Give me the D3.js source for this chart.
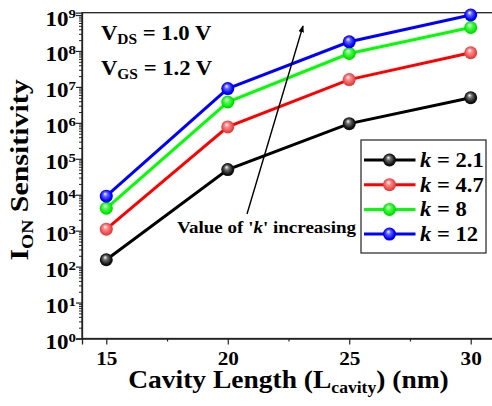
<!DOCTYPE html>
<html>
<head>
<meta charset="utf-8">
<script src="https://cdn.jsdelivr.net/npm/d3@7"></script>
<style>
  html, body { margin: 0; padding: 0; background: #fff; }
  svg { display: block; }
  text { font-family: "Liberation Serif", "Times New Roman", serif; font-weight: bold; fill: #000; }
</style>
</head>
<body>
<svg id="chart" width="492" height="406"></svg>
<script>
// Cavity lengths (nm)
const cavityLengths = [15, 20, 25, 30];

// ION sensitivity for each dielectric constant k
const seriesNames = ["k = 2.1", "k = 4.7", "k = 8", "k = 12"];
const kLabels = ["2.1", "4.7", "8", "12"];
const sensK21 = [155, 5.0e4, 9.5e5, 5.0e6];
const sensK47 = [1100, 7.7e5, 1.6e7, 8.9e7];
const sensK8 = [4200, 3.8e6, 8.5e7, 4.5e8];
const sensK12 = [9100, 9.0e6, 1.8e8, 1.0e9];
const seriesColors = ["#000000", "#ff0000", "#00ff00", "#0000ff"];
const markerColors = ["#111111", "#f04848", "#00ee00", "#0000ff"];

const xTicks = [15, 20, 25, 30];
const yExponents = [0, 1, 2, 3, 4, 5, 6, 7, 8, 9];

const allSeries = [sensK21, sensK47, sensK8, sensK12];

const svg = d3.select("#chart");
const plotLeft = 82, plotRight = 495, plotTop = 12.7, plotBottom = 338.5;

const x = d3.scaleLinear().domain([14, 31]).range([plotLeft, plotRight]);
const y = d3.scaleLog().domain([1, 1.16e9]).range([plotBottom, plotTop]);

// Text placed at (tx, ty) with a slight horizontal widening of the glyphs
function wideText(parent, tx, ty, sx, size, anchor) {
  return parent.append("g")
    .attr("transform", `translate(${tx},${ty}) scale(${sx},1)`)
    .append("text")
    .attr("text-anchor", anchor || "start")
    .style("font-size", size + "px");
}

const defs = svg.append("defs");
markerColors.forEach((c, i) => {
  const g = defs.append("radialGradient")
    .attr("id", "ball" + i)
    .attr("cx", "0.5").attr("cy", "0.5").attr("r", "0.55")
    .attr("fx", "0.4").attr("fy", "0.3");
  g.append("stop").attr("offset", "0").attr("stop-color", "#ffffff");
  g.append("stop").attr("offset", "0.3").attr("stop-color", d3.interpolateRgb("#ffffff", c)(0.6));
  g.append("stop").attr("offset", "0.75").attr("stop-color", c);
  g.append("stop").attr("offset", "1").attr("stop-color", d3.color(c).darker(0.6));
});
defs.append("marker")
  .attr("id", "arrowHead")
  .attr("viewBox", "0 0 10 10")
  .attr("refX", 9).attr("refY", 5)
  .attr("markerWidth", 7).attr("markerHeight", 7)
  .attr("markerUnits", "userSpaceOnUse")
  .attr("orient", "auto")
  .append("path").attr("d", "M0,1 L10,5 L0,9 Z").attr("fill", "#000");

// Frame (right edge runs off the canvas)
svg.append("rect")
  .attr("x", plotLeft).attr("y", plotTop)
  .attr("width", plotRight - plotLeft).attr("height", plotBottom - plotTop)
  .attr("fill", "none").attr("stroke", "#222").attr("stroke-width", 1.3);

// X axis
const xAxis = d3.axisBottom(x).tickValues(xTicks).tickSize(6).tickPadding(5).tickFormat(d3.format("d"));
const gx = svg.append("g").attr("transform", `translate(0,${plotBottom})`).call(xAxis);
gx.select(".domain").attr("stroke", "#222").attr("stroke-width", 1.3);
gx.selectAll(".tick line").attr("stroke", "#222").attr("stroke-width", 1.2);
gx.selectAll(".tick text").style("font-size", "18px").attr("dy", "0.88em")
  .attr("transform", "scale(1.18,1)");
const xMinor = d3.axisBottom(x).tickValues([17.5, 22.5, 27.5]).tickSize(3).tickFormat("");
const gxm = svg.append("g").attr("transform", `translate(0,${plotBottom})`).call(xMinor);
gxm.select(".domain").remove();
gxm.selectAll(".tick line").attr("stroke", "#222").attr("stroke-width", 1.2);

// Y axis: major decades with superscript labels, minor log ticks
const yMajor = yExponents.map(e => Math.pow(10, e));
const yMinorVals = [];
yExponents.slice(0, -1).forEach(e => { for (let m = 2; m <= 9; m++) yMinorVals.push(m * Math.pow(10, e)); });
const gy = svg.append("g").attr("transform", `translate(${plotLeft},0)`)
  .call(d3.axisLeft(y).tickValues(yMajor).tickSize(6).tickFormat(""));
gy.select(".domain").attr("stroke", "#222").attr("stroke-width", 1.3);
gy.selectAll(".tick line").attr("stroke", "#222").attr("stroke-width", 1.2);
const gym = svg.append("g").attr("transform", `translate(${plotLeft},0)`)
  .call(d3.axisLeft(y).tickValues(yMinorVals).tickSize(3).tickFormat(""));
gym.select(".domain").remove();
gym.selectAll(".tick line").attr("stroke", "#222").attr("stroke-width", 1);

const yLab = svg.append("g");
yExponents.forEach(e => {
  const t = wideText(yLab, 76, y(Math.pow(10, e)) + 10.5, 1.15, 20, "end");
  t.append("tspan").text("10");
  t.append("tspan").attr("dy", -7.5).style("font-size", "13px").text(e);
});

// Series lines and glossy markers
const line = d3.line().x((d, i) => x(cavityLengths[i])).y(d => y(d));
allSeries.forEach((vals, s) => {
  svg.append("path").datum(vals)
    .attr("d", line)
    .attr("fill", "none")
    .attr("stroke", seriesColors[s])
    .attr("stroke-width", 3);
});
allSeries.forEach((vals, s) => {
  svg.append("g").selectAll("circle").data(vals).join("circle")
    .attr("cx", (d, i) => x(cavityLengths[i]))
    .attr("cy", d => y(d))
    .attr("r", 6.5)
    .attr("fill", `url(#ball${s})`);
});

// Bias conditions
const bias = svg.append("g");
const vds = wideText(bias, 101, 40, 1.03, 22);
vds.append("tspan").text("V");
vds.append("tspan").attr("dy", 4).style("font-size", "15px").text("DS");
vds.append("tspan").attr("dy", -4).text(" = 1.0 V");
const vgs = wideText(bias, 101, 75, 1.03, 22);
vgs.append("tspan").text("V");
vgs.append("tspan").attr("dy", 4).style("font-size", "15px").text("GS");
vgs.append("tspan").attr("dy", -4).text(" = 1.2 V");

// Trend arrow and note
svg.append("line")
  .attr("x1", 247).attr("y1", 214)
  .attr("x2", 303).attr("y2", 26)
  .attr("stroke", "#000").attr("stroke-width", 1.4)
  .attr("marker-end", "url(#arrowHead)");
const note = wideText(svg, 177, 233, 1.12, 17);
note.append("tspan").text("Value of '");
note.append("tspan").style("font-style", "italic").text("k");
note.append("tspan").text("' increasing");

// Legend
const lg = svg.append("g");
lg.append("rect").attr("x", 361).attr("y", 140).attr("width", 125).attr("height", 113)
  .attr("fill", "#fff").attr("stroke", "#222").attr("stroke-width", 1.2);
seriesNames.forEach((name, s) => {
  const ly = 160 + s * 24.7;
  lg.append("line").attr("x1", 364).attr("x2", 415.5).attr("y1", ly).attr("y2", ly)
    .attr("stroke", seriesColors[s]).attr("stroke-width", 3);
  lg.append("circle").attr("cx", 389.5).attr("cy", ly).attr("r", 6.5).attr("fill", `url(#ball${s})`);
  const t = wideText(lg, 420, ly + 7, 1.13, 20);
  t.append("tspan").style("font-style", "italic").text("k");
  t.append("tspan").text(" = " + kLabels[s]);
});

// Axis titles
const xt = wideText(svg, 288.5, 388, 1.1, 25, "middle");
xt.append("tspan").text("Cavity Length (L");
xt.append("tspan").attr("dy", 5).style("font-size", "16px").text("cavity");
xt.append("tspan").attr("dy", -5).text(") (nm)");

const yt = svg.append("g")
  .attr("transform", "translate(28,170) rotate(-90) scale(1.15,1)")
  .append("text")
  .attr("text-anchor", "middle").style("font-size", "26px");
yt.append("tspan").text("I");
yt.append("tspan").attr("dy", 5).style("font-size", "17px").text("ON");
yt.append("tspan").attr("dy", -5).text(" Sensitivity");
</script>
</body>
</html>
